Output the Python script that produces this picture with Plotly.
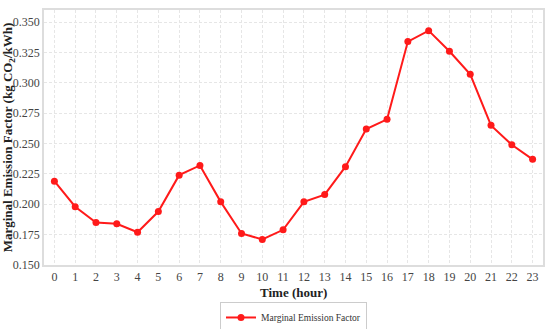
import plotly.graph_objects as go

hours = list(range(24))
mef = [0.219, 0.198, 0.185, 0.184, 0.177, 0.194, 0.224, 0.232, 0.202, 0.176, 0.171, 0.179,
       0.202, 0.208, 0.231, 0.262, 0.270, 0.334, 0.343, 0.326, 0.307, 0.265, 0.249, 0.237]
y_ticks = [0.150, 0.175, 0.200, 0.225, 0.250, 0.275, 0.300, 0.325, 0.350]

FONT = "Liberation Serif"

fig = go.Figure()
fig.add_trace(go.Scatter(
    x=hours, y=mef, mode="lines+markers", name="Marginal Emission Factor",
    line=dict(color="#ff1a1a", width=2),
    marker=dict(color="#ff1a1a", size=7),
))

fig.update_layout(
    width=550, height=329,
    margin=dict(l=44, r=7, t=10, b=64, autoexpand=False),
    paper_bgcolor="white", plot_bgcolor="white",
    font=dict(family=FONT, size=12, color="#444"),
    showlegend=True,
    legend=dict(orientation="h", x=0.5, xanchor="center", y=-0.145, yanchor="top",
                itemwidth=30, bordercolor="#cccccc", borderwidth=1,
                font=dict(family=FONT, size=9.5, color="#333")),
    annotations=[dict(text="<b>Time (hour)</b>", xref="paper", yref="paper",
                      x=0.5, y=-0.107, xanchor="center", yanchor="middle", showarrow=False,
                      font=dict(family=FONT, size=13, color="#222"))],
)
fig.update_xaxes(
    range=[-0.5, 23.5], tickmode="array", tickvals=hours, ticktext=[str(h) for h in hours],
    tickfont=dict(family=FONT, size=12, color="#444"),
    showgrid=True, gridcolor="#e6e6e6", griddash="3px,2px", gridwidth=1,
    showline=True, linecolor="#dddddd", linewidth=1.5, mirror=True,
    ticks="", ticklen=0, zeroline=False, automargin=False,
)
fig.update_yaxes(
    range=[0.150, 0.360], tickmode="array", tickvals=y_ticks, ticktext=[f"{v:.3f}" for v in y_ticks],
    tickfont=dict(family=FONT, size=12, color="#444"),
    showgrid=True, gridcolor="#e6e6e6", griddash="3px,2px", gridwidth=1,
    showline=True, linecolor="#dddddd", linewidth=1.5, mirror=True,
    ticks="", ticklen=0, zeroline=False, automargin=False,
    title=dict(text="<b>Marginal Emission Factor (kg CO<sub>2</sub>/kWh)</b>", font=dict(family=FONT, size=13, color="#222"), standoff=2),
)

fig.write_html("out.html", config={"displayModeBar": False},
               post_script="document.body.style.margin='0';")
